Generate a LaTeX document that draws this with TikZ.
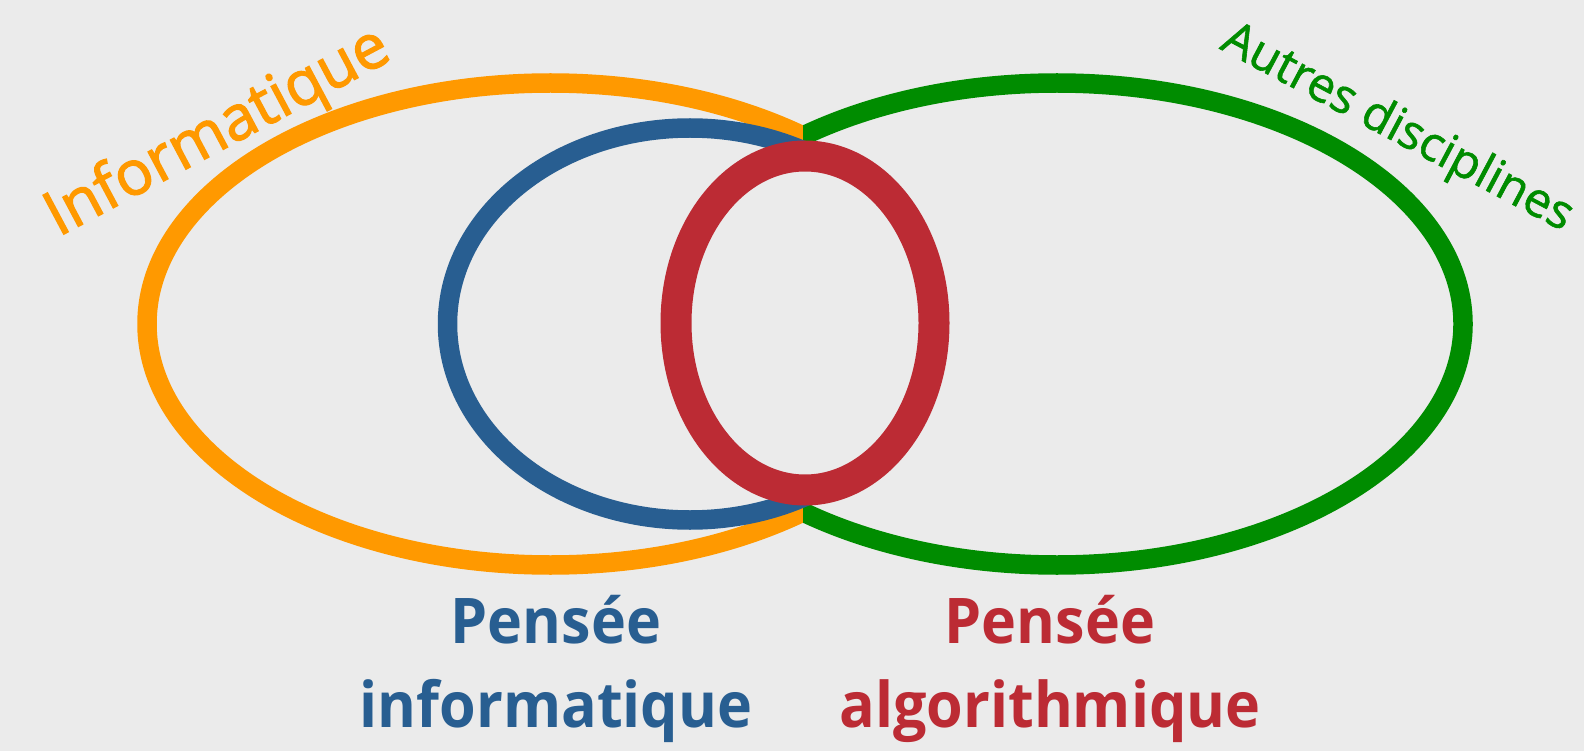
\documentclass[tikz,border=0pt]{standalone}
\usepackage{fontspec}
\setmainfont{Open Sans}
\newfontfamily\orfont{Open Sans}[FakeBold=2]
\newfontfamily\grfont{Open Sans}[FakeBold=1.2]
\definecolor{bgC}{HTML}{EBEBEB}
\definecolor{orangeC}{HTML}{FF9900}
\definecolor{greenC}{HTML}{008C00}
\definecolor{blueC}{HTML}{285E91}
\definecolor{redC}{HTML}{BC2B34}
\tikzset{
  ring/.style={draw, line width=19.5pt},
  bigtxt/.style={font=\fontsize{63}{63}\selectfont\bfseries, inner sep=0pt, anchor=base, xscale=0.94, transform shape},
  sidetxt/.style={inner sep=0pt, anchor=base},
}
\begin{document}
\begin{tikzpicture}[x=1pt,y=1pt]
\fill[bgC] (0,-751) rectangle (1584,0);
\useasboundingbox (0,-751) rectangle (1584,0);
\begin{scope}
  \clip (0,-751) rectangle (803,0);
  \draw[ring, orangeC] (550.5,-324) ellipse [x radius=403.5, y radius=241];
\end{scope}
\begin{scope}
  \clip (803,-751) rectangle (1584,0);
  \draw[ring, greenC] (1057,-324) ellipse [x radius=406, y radius=241];
\end{scope}
\draw[ring, blueC] (690,-324) ellipse [x radius=242.5, y radius=196];
\draw[ring, redC, fill=bgC, line width=31pt] (805,-323) ellipse [x radius=129, y radius=167];
\node[sidetxt, text=orangeC, font=\orfont\fontsize{62}{62}\selectfont, rotate=28] (info) at (226,-148) {Informatique};
\node[sidetxt, text=greenC, font=\grfont\fontsize{48}{48}\selectfont, rotate=-28] (autres) at (1391,-140) {Autres disciplines};
\node[bigtxt, text=blueC] (pi1) at (556,-643) {Pensée};
\node[bigtxt, text=blueC] (pi2) at (556,-727) {informatique};
\node[bigtxt, text=redC] (pa1) at (1050,-643) {Pensée};
\node[bigtxt, text=redC] (pa2) at (1050,-727) {algorithmique};
\end{tikzpicture}
\end{document}
